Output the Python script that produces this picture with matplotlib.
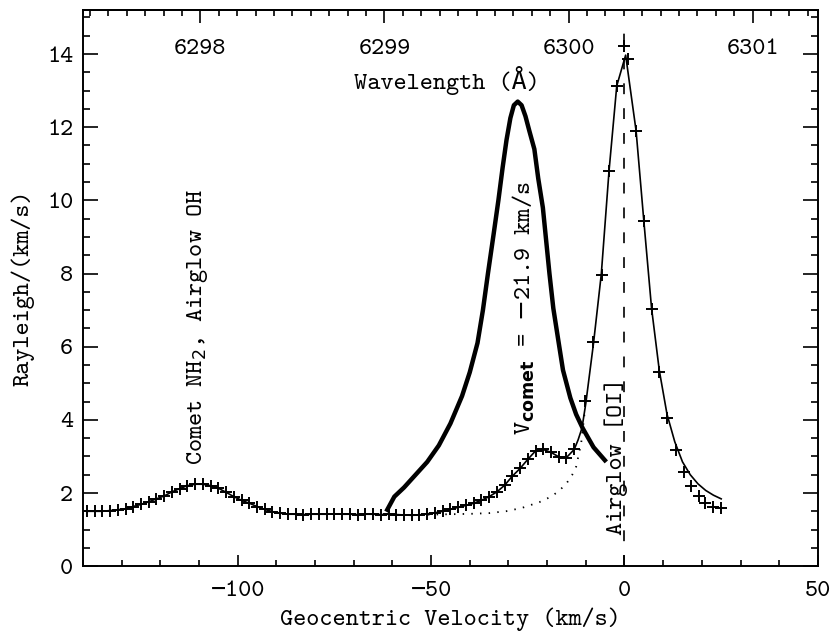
import numpy as np
import matplotlib.pyplot as plt
import matplotlib.transforms as mtransforms
from matplotlib.ticker import MultipleLocator, FixedLocator

plt.rcParams['font.family'] = ['cmtt10', 'DejaVu Sans Mono']
plt.rcParams['mathtext.fontset'] = 'dejavusans'
plt.rcParams['font.size'] = 18

C_KMS = 299792.458
LAM0 = 6300.304   # [OI] rest wavelength

# observed spectrum (crosses)
obs_v = list(range(-139, -11, 2)) + [-10.2, -8.1, -5.9, -4.0, -2.0, 0.0, 1.0, 3.0, 5.0, 7.1,
                                     9.0, 10.9, 13.2, 15.3, 17.2, 19.2, 20.9, 22.8, 25.0]
obs_y = [1.50, 1.50, 1.50, 1.52, 1.54, 1.57, 1.63, 1.69, 1.76, 1.84, 1.92, 2.03, 2.12,
         2.20, 2.24, 2.24, 2.20, 2.13, 2.02, 1.90, 1.80, 1.72, 1.63, 1.55, 1.49,
         1.45, 1.42, 1.42, 1.41, 1.42, 1.42, 1.42, 1.43, 1.42, 1.42, 1.41, 1.42, 1.42,
         1.41, 1.42, 1.41, 1.40, 1.39, 1.40, 1.43,
         1.46, 1.50, 1.55, 1.61, 1.66, 1.72, 1.80, 1.90, 2.03, 2.21, 2.46, 2.67, 2.92,
         3.15, 3.19, 3.11, 2.99, 2.97, 3.19,
         4.51, 6.13, 7.96, 10.81, 13.13, 14.23, 13.86, 11.90, 9.44, 7.04,
         5.30, 4.06, 3.17, 2.58, 2.20, 1.92, 1.73, 1.62, 1.60]

# total model fit (thin line): follows the data left of -13 km/s
n_left = 64
fit_v = obs_v[:n_left] + [-12, -11, -10, -8, -6, -4, -2, 0.3, 3, 5, 7, 9, 11, 13, 15,
                          17, 19, 21, 23, 25]
fit_y = obs_y[:n_left] + [3.45, 3.77, 4.45, 6.1, 7.98, 10.8, 13.13, 13.97, 11.9, 9.44,
                          7.05, 5.35, 4.15, 3.4, 2.85, 2.5, 2.25, 2.07, 1.94, 1.84]

# airglow only model (dotted)
glow_v = [-62, -55, -50, -45, -40, -35, -30, -26, -22, -19, -17, -15, -13.5, -12.5,
          -11.2, -10.2]
glow_y = [1.40, 1.40, 1.41, 1.42, 1.43, 1.45, 1.51, 1.61, 1.75, 1.90, 2.05, 2.26, 2.50,
          2.72, 3.36, 4.30]

# comet [OI] (thick line)
comet_v = [-61.6, -59.5, -57, -54, -51, -48, -45, -42, -40, -38, -36.6, -35.3, -33.8,
           -32.6, -31.5, -30.5, -29.5, -28.6, -27.6, -26.6, -25.6, -24.6, -23.3, -22.3,
           -21.1, -19.4, -18.4, -17, -15.9, -14, -12.5, -10.8, -8, -4.7]
comet_y = [1.49, 1.90, 2.15, 2.5, 2.85, 3.3, 3.9, 4.65, 5.3, 6.1, 7.0, 8.0, 9.1, 10.0,
           10.9, 11.65, 12.25, 12.6, 12.70, 12.6, 12.3, 11.9, 11.4, 10.6, 9.8, 8.0, 7.05,
           6.1, 5.36, 4.6, 4.15, 3.77, 3.25, 2.85]

wl_ticks = [6298, 6299, 6300, 6301]


def vel2lam(v):
    return LAM0 * (1 + np.asarray(v) / C_KMS)


def lam2vel(l):
    return (np.asarray(l) / LAM0 - 1) * C_KMS


fig, ax = plt.subplots(figsize=(8.38, 6.34), dpi=100)
fig.subplots_adjust(left=0.099, right=0.976, bottom=0.107, top=0.984)

ax.plot(fit_v, fit_y, color='k', lw=1.2)
ax.plot(obs_v, obs_y, ls='none', marker='+', ms=8.5, mew=1.4, color='k')
ax.plot(glow_v, glow_y, color='k', lw=1.3, ls=(0, (0.8, 4)))
ax.plot(comet_v, comet_y, color='k', lw=3.2, solid_capstyle='butt')
ax.plot([0, 0], [0, 14.6], color='k', lw=1.2, ls=(0, (6.5, 8.4)))

ax.set_xlim(-140, 50)
ax.set_ylim(0, 15.2)
ax.xaxis.set_major_locator(MultipleLocator(50))
ax.xaxis.set_minor_locator(MultipleLocator(10))
ax.yaxis.set_major_locator(MultipleLocator(2))
ax.yaxis.set_minor_locator(MultipleLocator(0.5))
ax.tick_params(axis='x', which='major', direction='in', length=8, width=1.2, top=False, pad=11)
ax.tick_params(axis='x', which='minor', direction='in', length=4.5, width=1.2, top=False)
ax.tick_params(axis='y', which='major', direction='in', length=10.5, width=1.2, right=True, pad=7)
ax.tick_params(axis='y', which='minor', direction='in', length=5, width=1.2, right=True)
for s in ax.spines.values():
    s.set_linewidth(1.4)

sec = ax.secondary_xaxis('top', functions=(vel2lam, lam2vel))
sec.xaxis.set_major_locator(FixedLocator(wl_ticks))
sec.xaxis.set_minor_locator(MultipleLocator(0.1))
sec.tick_params(which='major', direction='in', length=9.5, width=1.2, labeltop=False)
sec.tick_params(which='minor', direction='in', length=4.5, width=1.2)
sec.spines['top'].set_linewidth(1.4)

trans = mtransforms.blended_transform_factory(ax.transData, ax.transAxes)
for w in wl_ticks:
    ax.text(lam2vel(w), 0.929, str(w), transform=trans, ha='center', va='center')
ax.text(-45.8, 0.874, 'Wavelength (Å)', transform=trans, ha='center', va='center')

ax.set_xlabel('Geocentric Velocity (km/s)', labelpad=4)
ax.set_ylabel('Rayleigh/(km/s)', labelpad=9)

ax.text(-110.5, 2.76, 'Comet NH$_2$, Airglow OH', rotation=90, ha='center', va='bottom')
ax.text(-26.0, 3.58, r'V$_{\mathbf{comet}}$ = $-$21.9 km/s', rotation=90, ha='center', va='bottom')
ax.text(-2.2, 0.85, 'Airglow [OI]', rotation=90, ha='center', va='bottom')

plt.savefig('out.png', dpi=100)
